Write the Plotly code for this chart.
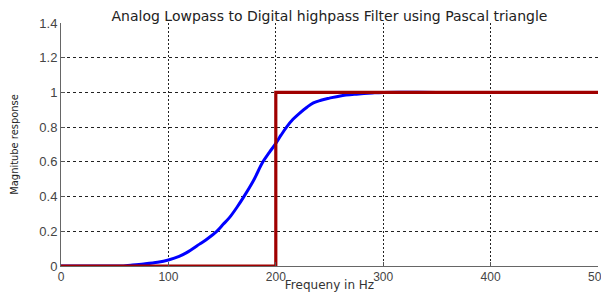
import plotly.graph_objects as go

# Analog prototype mapped to digital highpass (blue)
freq_hz = [0, 40, 55, 65, 77, 90, 100, 110, 117, 129, 137, 145, 151, 157, 164, 170,
           179, 188, 194, 200, 205, 210, 216, 222, 229, 235, 242, 250, 260, 275,
           290, 300, 350, 400, 450, 500]
magnitude = [0, 0, 0.0, 0.005, 0.012, 0.022, 0.035, 0.055, 0.077, 0.126, 0.16, 0.2,
             0.24, 0.28, 0.34, 0.397, 0.49, 0.6, 0.655, 0.706, 0.755, 0.8, 0.845,
             0.88, 0.915, 0.94, 0.955, 0.967, 0.98, 0.99, 0.997, 1.0, 1.0, 1.0, 1.0, 1.0]

# Ideal highpass response (red)
ideal_hz = [0, 200, 200, 500]
ideal_mag = [0, 0, 1, 1]

x_ticks = [0, 100, 200, 300, 400, 500]
y_ticks = [0, 0.2, 0.4, 0.6, 0.8, 1.0, 1.2, 1.4]
y_tick_text = ["0", "0.2", "0.4", "0.6", "0.8", "1", "1.2", "1.4"]

fig = go.Figure()
fig.add_trace(go.Scatter(x=freq_hz, y=magnitude, mode="lines",
                         line=dict(color="#0000ff", width=3, shape="spline"),
                         showlegend=False))
fig.add_trace(go.Scatter(x=ideal_hz, y=ideal_mag, mode="lines",
                         line=dict(color="#a00000", width=3.2),
                         showlegend=False))

font_main = "Liberation Sans, Arial, sans-serif"
# the page body adds an 8px offset, so the figure is sized to fit inside the window
fig.update_layout(
    width=601, height=284,
    margin=dict(l=53, r=11, t=15, b=26),
    paper_bgcolor="white", plot_bgcolor="white",
    font=dict(family=font_main, size=13, color="#333333"),
    title=dict(text="Analog Lowpass to Digital highpass Filter using Pascal triangle",
               xref="paper", x=0.5, xanchor="center",
               yref="container", y=0.972, yanchor="middle",
               font=dict(family="DejaVu Sans, sans-serif", size=14, color="#222222")),
    xaxis=dict(range=[0, 500], tickvals=x_ticks, ticks="inside", ticklen=4,
               tickcolor="#555555", showline=True, linecolor="#666666", linewidth=1,
               showgrid=True, gridcolor="#222222", griddash="2px,2px", gridwidth=1,
               zeroline=False, automargin=False, ticklabeloverflow="allow",
               tickfont=dict(size=12, color="#444444"),
               title=dict(text="Frequeny in Hz", standoff=10,
                          font=dict(family="DejaVu Sans, sans-serif", size=12,
                                    color="#333333"))),
    yaxis=dict(range=[0, 1.4], tickvals=y_ticks, ticktext=y_tick_text,
               ticks="inside", ticklen=4, tickcolor="#555555",
               showline=True, linecolor="#666666", linewidth=1,
               showgrid=True, gridcolor="#222222", griddash="3px,3px", gridwidth=1,
               zeroline=False, automargin=False,
               tickfont=dict(size=13, color="#444444"),
               title=dict(text="Magnitube response", standoff=20,
                          font=dict(family="Liberation Sans Narrow, DejaVu Sans Condensed, sans-serif",
                                    size=11, color="#222222"))),
)

fig.write_html("out.html")
